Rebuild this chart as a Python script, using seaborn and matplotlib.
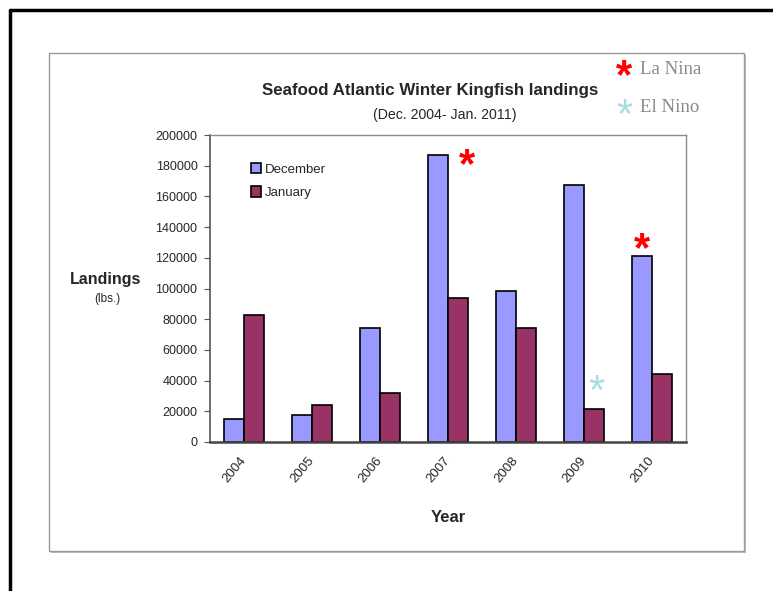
import pandas as pd
import matplotlib
matplotlib.use("Agg")
import matplotlib.pyplot as plt
import matplotlib.transforms as mtransforms
from matplotlib.patches import Rectangle
from matplotlib.lines import Line2D
import seaborn as sns

# values
years = ["2004", "2005", "2006", "2007", "2008", "2009", "2010"]
december = [15000, 17500, 74000, 187000, 98500, 167500, 121000]
january = [83000, 24000, 32000, 94000, 74500, 21500, 44500]
months = ["December", "January"]
month_colors = ["#9999FF", "#993366"]

df = pd.DataFrame({
    "Year": years * 2,
    "Month": [months[0]] * len(years) + [months[1]] * len(years),
    "Landings": december + january,
})

sns.set_theme(style="white")
plt.rcParams["font.family"] = ["Liberation Sans", "DejaVu Sans"]

W, H = 773, 591
fig = plt.figure(figsize=(W / 100, H / 100), dpi=100)
fig.patch.set_facecolor("white")


def fx(px):
    return px / W


def fy(py):
    return 1 - py / H


# slide frame (black top and left lines)
fig.add_artist(Line2D([fx(10), fx(773)], [fy(10), fy(10)], color="black", lw=2.5))
fig.add_artist(Line2D([fx(10), fx(10)], [fy(10), fy(591)], color="black", lw=2.5))

# chart box with a soft shadow on bottom/right
fig.add_artist(Rectangle((fx(51), fy(553)), fx(744 - 49), (551 - 53) / H,
                         facecolor="#bdbdbd", edgecolor="none", zorder=0))
fig.add_artist(Rectangle((fx(49), fy(551)), fx(744 - 49), (551 - 53) / H,
                         facecolor="white", edgecolor="#9a9a9a", lw=1.0, zorder=0.5))

ax = fig.add_axes([fx(210), fy(442), fx(686 - 210), (442 - 135) / H])
ax.set_zorder(2)
sns.barplot(data=df, x="Year", y="Landings", hue="Month", palette=month_colors,
            width=0.58, edgecolor="black", linewidth=1.2, saturation=1,
            ax=ax, legend=True)

ax.set_ylim(0, 200000)
ax.set_xlim(-0.5, len(years) - 0.5)
ax.set_yticks(range(0, 200001, 20000))
ax.set_yticklabels([str(v) for v in range(0, 200001, 20000)], fontsize=9)
ax.tick_params(axis="y", length=4, width=0.8, color="#555555", pad=5, left=True)
ax.tick_params(axis="x", length=0, pad=9)
shift = mtransforms.ScaledTranslation(-5 / 100, 0, fig.dpi_scale_trans)
for lab in ax.get_xticklabels():
    lab.set_rotation(50)
    lab.set_ha("right")
    lab.set_rotation_mode("anchor")
    lab.set_fontsize(9.5)
    lab.set_transform(lab.get_transform() + shift)
ax.set_xlabel("")
ax.set_ylabel("")

for side in ["top", "right"]:
    ax.spines[side].set_color("#8c8c8c")
    ax.spines[side].set_linewidth(1.0)
ax.spines["left"].set_color("#555555")
ax.spines["left"].set_linewidth(1.2)
ax.spines["bottom"].set_color("#444444")
ax.spines["bottom"].set_linewidth(1.8)

leg = ax.legend(loc="upper left", bbox_to_anchor=(0.074, 0.925), frameon=False,
                fontsize=9.5, handlelength=0.8, handleheight=0.8,
                handletextpad=0.3, labelspacing=0.8, borderaxespad=0)

# ENSO markers on the chart
ax.text(3.28, 180000, "*", color="red", fontsize=30, fontweight="bold",
        ha="center", va="center")
ax.text(5.18, 32000, "*", color="#a8dde3", fontsize=30,
        ha="center", va="center")
ax.text(5.86, 125000, "*", color="red", fontsize=30, fontweight="bold",
        ha="center", va="center")

# titles and axis labels
fig.text(fx(430), fy(91), "Seafood Atlantic Winter Kingfish landings",
         fontsize=12.2, fontweight="bold", ha="center", va="center")
fig.text(fx(445), fy(115), "(Dec. 2004- Jan. 2011)", fontsize=10.2,
         ha="center", va="center")
fig.text(fx(106), fy(280), "Landings", fontsize=11.5, fontweight="bold",
         ha="center", va="center")
fig.text(fx(107), fy(299), "(lbs.)", fontsize=8.5, ha="center", va="center")
fig.text(fx(448), fy(518), "Year", fontsize=12, fontweight="bold",
         ha="center", va="center")

# key for the asterisks
fig.text(fx(624), fy(77), "*", color="red", fontsize=30, fontweight="bold",
         ha="center", va="center")
fig.text(fx(624), fy(117), "*", color="#a8dde3", fontsize=30,
         ha="center", va="center")
fig.text(fx(640), fy(70), "La Nina", color="#8a8a8a", fontsize=13.5,
         family=["Liberation Serif", "DejaVu Serif"], ha="left", va="center")
fig.text(fx(640), fy(107), "El Nino", color="#8a8a8a", fontsize=13.5,
         family=["Liberation Serif", "DejaVu Serif"], ha="left", va="center")

fig.savefig("out.png", dpi=100)
